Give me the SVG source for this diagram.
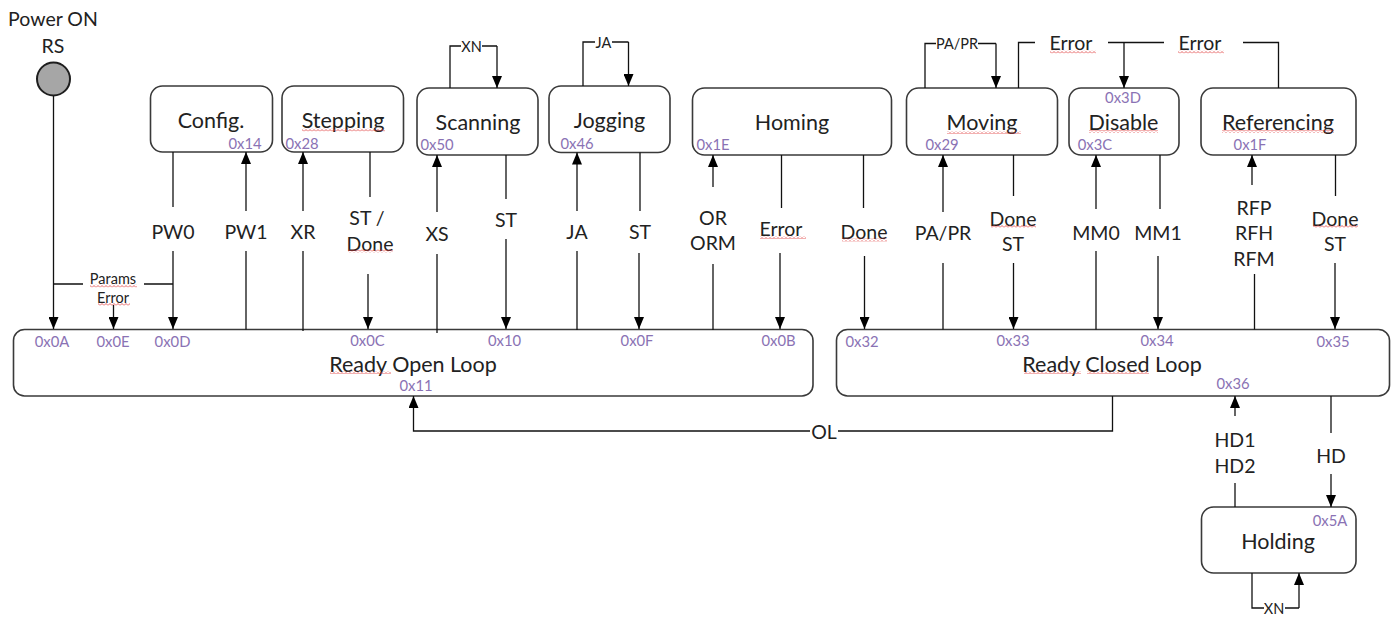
<svg xmlns="http://www.w3.org/2000/svg" width="1396" height="621" viewBox="0 0 1396 621">
  <style>
    .box { fill: #ffffff; stroke: #3a3a3a; stroke-width: 1.6; }
    .wire { fill: none; stroke: #111111; stroke-width: 1.3; }
    .arr { marker-end: url(#arrow); }
    text { font-family: Lato, "Liberation Sans", sans-serif; fill: #222222; text-anchor: middle; dominant-baseline: central; }
    .node { font-size: 21.5px; }
    .lbl { font-size: 19.5px; }
    .small { font-size: 14.5px; }
    .hex { font-size: 14.8px; fill: #8a72b4; }
    .spell { fill: url(#squiggle); }
  </style>
  <defs>
    <marker id="arrow" viewBox="0 0 12 10" refX="12" refY="5" markerWidth="12" markerHeight="10" markerUnits="userSpaceOnUse" orient="auto">
      <path d="M0,0 L12,5 L0,10 Z" fill="#000000"/>
    </marker>
    <pattern id="squiggle" width="4" height="3" patternUnits="userSpaceOnUse">
      <path d="M0,2.5 L2,0.5 L4,2.5" fill="none" stroke="#e03a3a" stroke-width="0.8"/>
    </pattern>
  </defs>

  <rect width="1396" height="621" fill="#ffffff"/>

  <!-- power-on entry point -->
  <g id="power-on">
    <text class="lbl" x="53" y="18.5">Power ON</text>
    <text class="lbl" x="53" y="45">RS</text>
    <circle cx="53.5" cy="79" r="16.5" fill="#a6a6a6" stroke="#1e1e1e" stroke-width="2"/>
  </g>

  <!-- state nodes -->
  <g id="config">
    <rect class="box" x="150.5" y="86" width="122" height="66" rx="12"/>
    <text class="node" x="211" y="120">Config.</text>
    <text class="hex" x="245" y="143">0x14</text>
  </g>
  <g id="stepping">
    <rect class="box" x="282" y="86" width="121.5" height="66" rx="12"/>
    <text class="node" x="343" y="120">Stepping</text>
    <text class="hex" x="302" y="143">0x28</text>
  </g>
  <g id="scanning">
    <rect class="box" x="417" y="88" width="121" height="67" rx="12"/>
    <text class="node" x="478" y="121.5">Scanning</text>
    <text class="hex" x="437" y="144">0x50</text>
  </g>
  <g id="jogging">
    <rect class="box" x="549" y="86" width="121" height="66.5" rx="12"/>
    <text class="node" x="609.5" y="120">Jogging</text>
    <text class="hex" x="577" y="143">0x46</text>
  </g>
  <g id="homing">
    <rect class="box" x="692.5" y="88" width="199" height="67" rx="12"/>
    <text class="node" x="792" y="121.5">Homing</text>
    <text class="hex" x="713" y="144">0x1E</text>
  </g>
  <g id="moving">
    <rect class="box" x="906.5" y="88" width="151" height="67" rx="12"/>
    <text class="node" x="982" y="121.5">Moving</text>
    <text class="hex" x="942" y="144">0x29</text>
  </g>
  <g id="disable">
    <rect class="box" x="1069" y="88" width="110" height="67" rx="12"/>
    <text class="node" x="1123.5" y="121.5">Disable</text>
    <text class="hex" x="1123" y="97">0x3D</text>
    <text class="hex" x="1095" y="144">0x3C</text>
  </g>
  <g id="referencing">
    <rect class="box" x="1201" y="88" width="155" height="67" rx="12"/>
    <text class="node" x="1278" y="121.5">Referencing</text>
    <text class="hex" x="1250" y="144">0x1F</text>
  </g>
  <g id="ready-open-loop">
    <rect class="box" x="13.5" y="329.5" width="799.5" height="66.5" rx="11"/>
    <text class="node" x="413" y="364">Ready Open Loop</text>
    <text class="hex" x="52" y="341">0x0A</text>
    <text class="hex" x="113" y="341">0x0E</text>
    <text class="hex" x="172.5" y="341">0x0D</text>
    <text class="hex" x="367.5" y="340">0x0C</text>
    <text class="hex" x="504.5" y="340">0x10</text>
    <text class="hex" x="637" y="340">0x0F</text>
    <text class="hex" x="778.5" y="340">0x0B</text>
    <text class="hex" x="416" y="385">0x11</text>
  </g>
  <g id="ready-closed-loop">
    <rect class="box" x="836.5" y="329.5" width="553" height="66.5" rx="11"/>
    <text class="node" x="1112" y="363.5">Ready Closed Loop</text>
    <text class="hex" x="862" y="341">0x32</text>
    <text class="hex" x="1013" y="340">0x33</text>
    <text class="hex" x="1157" y="340">0x34</text>
    <text class="hex" x="1333" y="341">0x35</text>
    <text class="hex" x="1233" y="383">0x36</text>
  </g>
  <g id="holding">
    <rect class="box" x="1201.5" y="507" width="154.5" height="66" rx="12"/>
    <text class="node" x="1278" y="541">Holding</text>
    <text class="hex" x="1330" y="519.5">0x5A</text>
  </g>

  <!-- transitions -->
  <g id="connectors">
    <!-- RS / params error -->
    <path class="wire arr" d="M53.5,96 V329"/>
    <path class="wire" d="M54,284 H83 M144,284 H173"/>
    <path class="wire arr" d="M113.5,305 V329"/>
    <text class="small" x="113" y="278">Params</text>
    <text class="small" x="113" y="297">Error</text>

    <!-- Config -->
    <path class="wire" d="M173,152 V207"/>
    <path class="wire arr" d="M173,251 V329"/>
    <text class="lbl" x="173" y="231.5">PW0</text>
    <path class="wire" d="M246,329.5 V251"/>
    <path class="wire arr" d="M246,211 V152"/>
    <text class="lbl" x="246" y="231.5">PW1</text>

    <!-- Stepping -->
    <path class="wire" d="M303,331 V251"/>
    <path class="wire arr" d="M303,211 V152"/>
    <text class="lbl" x="303" y="231.5">XR</text>
    <path class="wire" d="M370,152 V197"/>
    <path class="wire arr" d="M368,274 V329"/>
    <text class="lbl" x="367" y="217">ST /</text>
    <text class="lbl" x="370" y="243">Done</text>

    <!-- Scanning -->
    <path class="wire" d="M437,333 V254"/>
    <path class="wire arr" d="M437,212 V155"/>
    <text class="lbl" x="437" y="233">XS</text>
    <path class="wire" d="M506,155 V199"/>
    <path class="wire arr" d="M506,239 V329"/>
    <text class="lbl" x="506" y="219">ST</text>
    <path class="wire" d="M450,88 V46 H461 M482,46 H497"/>
    <path class="wire arr" d="M497,46 V88"/>
    <text class="small" x="471.5" y="46">XN</text>

    <!-- Jogging -->
    <path class="wire" d="M577,330 V251"/>
    <path class="wire arr" d="M577,211 V152.5"/>
    <text class="lbl" x="577" y="231">JA</text>
    <path class="wire" d="M640,152.5 V211"/>
    <path class="wire arr" d="M639,253 V329"/>
    <text class="lbl" x="640" y="231">ST</text>
    <path class="wire" d="M583,86 V42 H595 M612,42 H628.5"/>
    <path class="wire arr" d="M628.5,42 V86"/>
    <text class="small" x="603.5" y="42">JA</text>

    <!-- Homing -->
    <path class="wire" d="M713,330 V264"/>
    <path class="wire arr" d="M713,187 V155"/>
    <text class="lbl" x="713" y="217">OR</text>
    <text class="lbl" x="713" y="242.5">ORM</text>
    <path class="wire" d="M781.5,155 V208"/>
    <path class="wire arr" d="M780,253 V329"/>
    <text class="lbl" x="781" y="228">Error</text>
    <path class="wire" d="M863.5,155 V208"/>
    <path class="wire arr" d="M864.5,256 V329"/>
    <text class="lbl" x="864" y="231">Done</text>

    <!-- Moving -->
    <path class="wire" d="M943,329.5 V263"/>
    <path class="wire arr" d="M943,212 V155"/>
    <text class="lbl" x="943" y="232">PA/PR</text>
    <path class="wire" d="M1013.5,155 V196"/>
    <path class="wire arr" d="M1013.5,263 V329"/>
    <text class="lbl" x="1013" y="218">Done</text>
    <text class="lbl" x="1013" y="243">ST</text>
    <path class="wire" d="M925,88 V43.5 H936 M978,43.5 H996"/>
    <path class="wire arr" d="M996,43.5 V88"/>
    <text class="small" x="957" y="43.5">PA/PR</text>

    <!-- Error to Disable / Referencing -->
    <path class="wire" d="M1018.5,88 V42.5 H1035"/>
    <text class="lbl" x="1071" y="42">Error</text>
    <path class="wire" d="M1108,42.5 H1164"/>
    <path class="wire arr" d="M1124,42.5 V88"/>
    <text class="lbl" x="1200" y="42">Error</text>
    <path class="wire" d="M1243,42.5 H1278.5 V88"/>

    <!-- Disable -->
    <path class="wire" d="M1096,329.5 V251"/>
    <path class="wire arr" d="M1096,209 V155"/>
    <text class="lbl" x="1096" y="232">MM0</text>
    <path class="wire" d="M1160,155 V209"/>
    <path class="wire arr" d="M1158,256 V329"/>
    <text class="lbl" x="1158" y="232">MM1</text>

    <!-- Referencing -->
    <path class="wire" d="M1254.5,329.5 V274"/>
    <path class="wire arr" d="M1252,185 V155"/>
    <text class="lbl" x="1254" y="207">RFP</text>
    <text class="lbl" x="1254" y="232">RFH</text>
    <text class="lbl" x="1254" y="258">RFM</text>
    <path class="wire" d="M1335.5,155 V196"/>
    <path class="wire arr" d="M1335,263 V329"/>
    <text class="lbl" x="1335" y="218">Done</text>
    <text class="lbl" x="1335" y="243">ST</text>

    <!-- Open loop return -->
    <path class="wire" d="M1112.5,396 V431 H838"/>
    <path class="wire arr" d="M810,431 H413.5 V396"/>
    <text class="lbl" x="824" y="431.5">OL</text>

    <!-- Holding -->
    <path class="wire" d="M1235,507 V483"/>
    <path class="wire arr" d="M1235,416 V396"/>
    <text class="lbl" x="1235" y="439">HD1</text>
    <text class="lbl" x="1235" y="465">HD2</text>
    <path class="wire" d="M1331,396 V433"/>
    <path class="wire arr" d="M1331,474 V507"/>
    <text class="lbl" x="1331" y="455">HD</text>
    <path class="wire" d="M1252,573 V608 H1264 M1285,608 H1299"/>
    <path class="wire arr" d="M1299,608 V573"/>
    <text class="small" x="1274" y="608">XN</text>
  </g>

  <!-- proofing squiggles under flagged words -->
  <g id="proofing">
    <rect class="spell" x="302" y="128.5" width="83" height="3"/>
    <rect class="spell" x="947" y="131" width="74" height="3"/>
    <rect class="spell" x="1089" y="130" width="69" height="3"/>
    <rect class="spell" x="1222" y="130" width="112" height="3"/>
    <rect class="spell" x="330" y="371" width="61" height="3"/>
    <rect class="spell" x="1024" y="371" width="57" height="3"/>
    <rect class="spell" x="1087" y="371" width="62" height="3"/>
    <rect class="spell" x="90" y="284.5" width="47" height="3"/>
    <rect class="spell" x="98" y="303" width="32" height="3"/>
    <rect class="spell" x="348" y="249.5" width="45" height="3"/>
    <rect class="spell" x="760" y="236" width="46" height="3"/>
    <rect class="spell" x="842" y="238.5" width="45" height="3"/>
    <rect class="spell" x="991" y="225" width="45" height="3"/>
    <rect class="spell" x="1313" y="225" width="45" height="3"/>
    <rect class="spell" x="1050" y="50.5" width="46" height="3"/>
    <rect class="spell" x="1178" y="50.5" width="46" height="3"/>
  </g>
</svg>
